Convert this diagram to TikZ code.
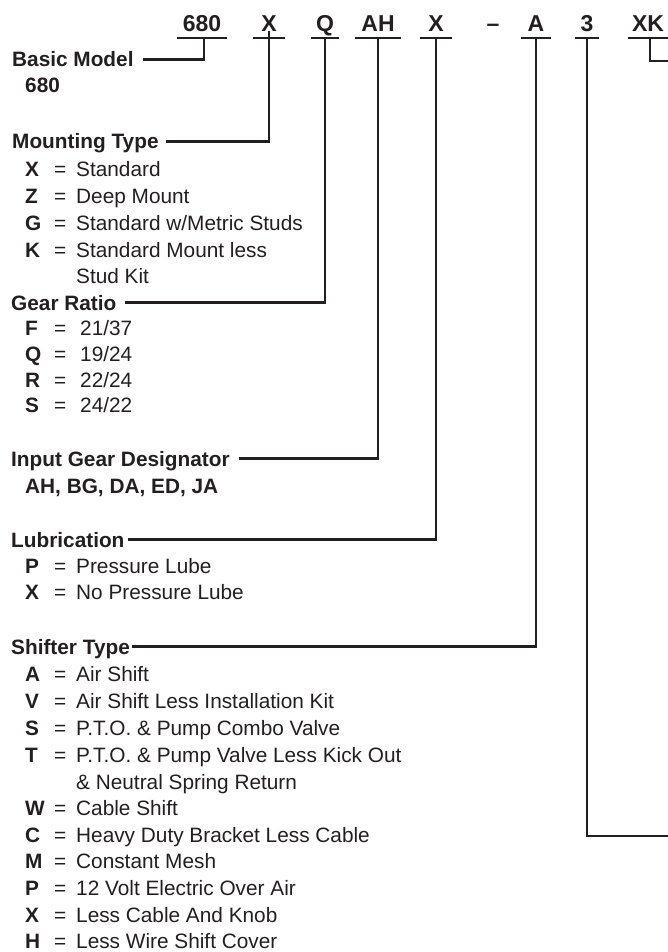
\documentclass[tikz,border=0pt]{standalone}
\usepackage{fontspec}
\setmainfont{Liberation Sans}
\definecolor{ink}{RGB}{35,31,32}
\newcommand{\itemrow}[3][10pt]{\makebox[29pt][l]{\bfseries #2}\makebox[12pt][c]{=}\hspace{#1}#3}
\begin{document}
\begin{tikzpicture}[x=1pt,y=-1pt,
  every node/.style={text=ink,font=\fontsize{20.8}{25}\selectfont},
  hdr/.style={anchor=base,font=\fontsize{23}{27}\selectfont\bfseries,inner xsep=0pt,inner ysep=6pt,text height=16.5pt,text depth=0pt},
  lbl/.style={anchor=base west,font=\fontsize{20.8}{25}\selectfont\bfseries,inner sep=0pt,text height=15pt,text depth=0pt},
  row/.style={anchor=base west,inner sep=0pt},
  ul/.style={draw=ink,line width=2.6pt},
  conn/.style={draw=ink,line width=2.6pt,line join=miter}]
\useasboundingbox (0,0) rectangle (668,952);
% header codes
\node[hdr,minimum width=50pt] (h680) at (202,32) {680};
\node[hdr,minimum width=32pt] (hX1) at (269,32) {X};
\node[hdr,minimum width=28pt] (hQ) at (325,32) {Q};
\node[hdr,minimum width=45pt] (hAH) at (378,32) {AH};
\node[hdr,minimum width=31pt] (hX2) at (436,32) {X};
\node[hdr] (hdash) at (493,32) {–};
\node[hdr,minimum width=30pt] (hA) at (536,32) {A};
\node[hdr,minimum width=24pt] (h3) at (587,32) {3};
\node[hdr,minimum width=40pt] (hXK) at (648,32) {XK};
\foreach \n in {h680,hX1,hQ,hAH,hX2,hA,h3,hXK}
  \draw[ul] (\n.south west) -- (\n.south east);
\coordinate (e3) at (668,836);
\coordinate (eXK) at (668,61);
% labels
\node[lbl] (basic) at (12,67) {Basic Model};
\node[row,font=\fontsize{20.8}{25}\selectfont\bfseries] (basicv) at (25,93) {680};
\node[lbl] (mount) at (12,149) {Mounting Type};
\node[row] (m1) at (25,177) {\itemrow{X}{Standard}};
\node[row] (m2) at (25,203) {\itemrow{Z}{Deep Mount}};
\node[row] (m3) at (25,230) {\itemrow{G}{Standard w/Metric Studs}};
\node[row] (m4) at (25,257) {\itemrow{K}{Standard Mount less}};
\node[row] (m4b) at (76,283) {Stud Kit};
\node[lbl] (gear) at (11,310) {Gear Ratio};
\node[row] (g1) at (25,335) {\itemrow[14pt]{F}{21/37}};
\node[row] (g2) at (25,361) {\itemrow[14pt]{Q}{19/24}};
\node[row] (g3) at (25,387) {\itemrow[14pt]{R}{22/24}};
\node[row] (g4) at (25,412) {\itemrow[14pt]{S}{24/22}};
\node[lbl] (input) at (11,466) {Input Gear Designator};
\node[row,font=\fontsize{20.8}{25}\selectfont\bfseries] (inputv) at (25,493) {AH, BG, DA, ED, JA};
\node[lbl] (lube) at (11,547) {Lubrication};
\node[row] (l1) at (25,573) {\itemrow{P}{Pressure Lube}};
\node[row] (l2) at (25,599) {\itemrow{X}{No Pressure Lube}};
\node[lbl] (shift) at (11,654) {Shifter Type};
\node[row] (s1) at (25,681) {\itemrow{A}{Air Shift}};
\node[row] (s2) at (25,708) {\itemrow{V}{Air Shift Less Installation Kit}};
\node[row] (s3) at (25,735) {\itemrow{S}{P.T.O. \& Pump Combo Valve}};
\node[row] (s4) at (25,762) {\itemrow{T}{P.T.O. \& Pump Valve Less Kick Out}};
\node[row] (s4b) at (76,789) {\& Neutral Spring Return};
\node[row] (s5) at (25,815) {\itemrow{W}{Cable Shift}};
\node[row] (s6) at (25,842) {\itemrow{C}{Heavy Duty Bracket Less Cable}};
\node[row] (s7) at (25,868) {\itemrow{M}{Constant Mesh}};
\node[row] (s8) at (25,895) {\itemrow{P}{12 Volt Electric Over Air}};
\node[row] (s9) at (25,922) {\itemrow{X}{Less Cable And Knob}};
\node[row] (s10) at (25,948) {\itemrow{H}{Less Wire Shift Cover}};
% connectors
\draw[conn] ([xshift=2pt]h680.south) |- ([xshift=9pt]basic.east);
\draw[conn] ([yshift=7pt]hX1.south) |- ([xshift=7pt]mount.east);
\draw[conn] (hQ.south) |- ([xshift=8pt]gear.east);
\draw[conn] (hAH.south) |- ([xshift=9pt]input.east);
\draw[conn] (hX2.south) |- ([xshift=3pt]lube.east);
\draw[conn] (hA.south) |- ([xshift=2pt]shift.east);
\draw[conn] (h3.south) |- (e3);
\draw[conn] ([xshift=2pt]hXK.south) |- (eXK);
\end{tikzpicture}
\end{document}
